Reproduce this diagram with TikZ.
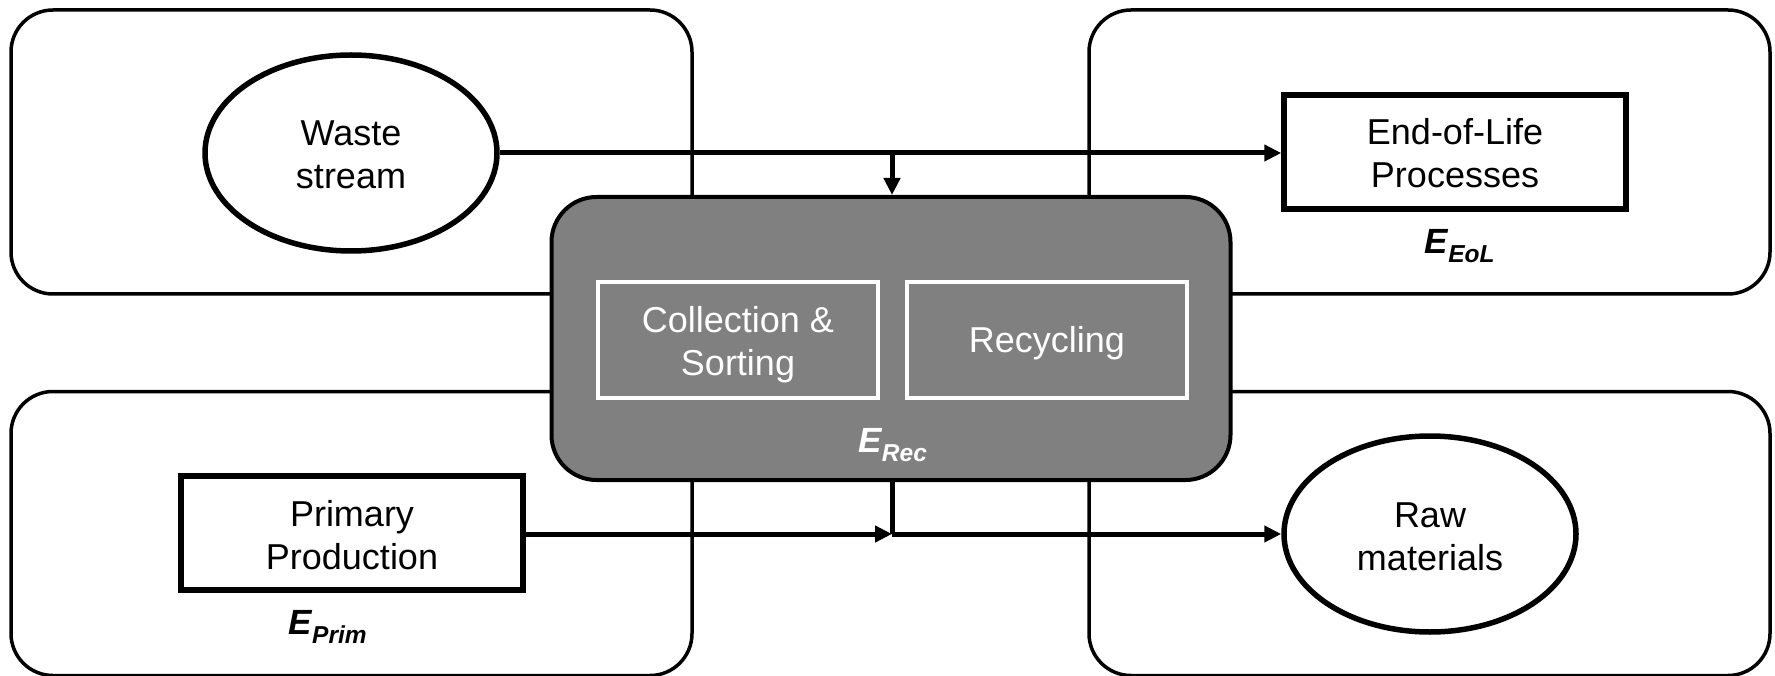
\documentclass[tikz,border=0pt]{standalone}
\usepackage{fontspec}
\setmainfont{Liberation Sans}
\usetikzlibrary{shapes.geometric,arrows.meta}
\tikzset{
  txt/.style={font=\fontsize{36}{43}\selectfont, align=center, inner sep=0pt},
  outerbox/.style={draw=black, line width=3.5pt, rounded corners=42pt, fill=white, minimum width=681pt, minimum height=284pt, inner sep=0pt},
  centerbox/.style={draw=black, line width=4pt, rounded corners=45pt, fill=gray50, minimum width=679pt, minimum height=283pt, inner sep=0pt},
  innerbox/.style={draw=white, line width=4pt, fill=gray50, minimum width=280pt, minimum height=116pt, inner sep=0pt},
  procbox/.style={draw=black, line width=5.5pt, fill=white, minimum width=342pt, minimum height=114pt, inner sep=0pt},
  flowell/.style={ellipse, draw=black, line width=5.5pt, fill=white, minimum width=292pt, minimum height=196pt, inner sep=0pt},
  elabel/.style={inner sep=0pt, font=\fontsize{35}{40}\selectfont\bfseries\itshape},
  arr/.style={line width=5pt, -{Triangle[length=17pt,width=16pt]}},
  conn/.style={line width=5pt}
}
\definecolor{gray50}{RGB}{128,128,128}
\begin{document}
\begin{tikzpicture}[x=1pt,y=-1pt]
\useasboundingbox (0,0) rectangle (1775,676);
% outer boxes
\node[outerbox] (tl) at (351.5,152) {};
\node[outerbox] (tr) at (1429.5,152) {};
\node[outerbox] (bl) at (351.5,533.5) {};
\node[outerbox] (br) at (1429.5,533.5) {};
% flow elements
\node[flowell, label={[txt, yshift=-1.5pt]center:{Waste\\stream}}] (waste) at (351,153) {};
\node[procbox, label={[txt, yshift=-1.5pt]center:{End-of-Life\\Processes}}] (eol) at (1455,152) {};
\node[elabel] (eeol) at (1460,246) {E\textsubscript{EoL}};
\node[procbox, label={[txt, yshift=-2.5pt]center:{Primary\\Production}}] (pp) at (352,533) {};
\node[elabel] (eprim) at (328,627) {E\textsubscript{Prim}};
\node[flowell, label={[txt, yshift=-2.5pt]center:{Raw\\materials}}] (raw) at (1430,534) {};
% connectors
\coordinate (j1) at (892,153);
\coordinate (j2) at (892,534);
\draw[arr] (waste.east) -- (waste.east -| eol.west);
\draw[arr] (pp.east |- j2) -- (j2);
\draw[arr] (j2) -- (raw.west);
% central recycling box
\node[centerbox] (rec) at (891,338.5) {};
\node[innerbox, label={[txt, text=white, yshift=-5pt]center:{Collection \&\\Sorting}}] (cs) at (738,340) {};
\node[innerbox, label={[txt, text=white, yshift=-3.5pt]center:Recycling}] (recy) at (1047,340) {};
\node[elabel, text=white] (erec) at (893,445) {E\textsubscript{Rec}};
\draw[arr] (j1) -- (j1 |- rec.north);
\draw[conn] (j2 |- rec.south) -- (j2);
\end{tikzpicture}
\end{document}
